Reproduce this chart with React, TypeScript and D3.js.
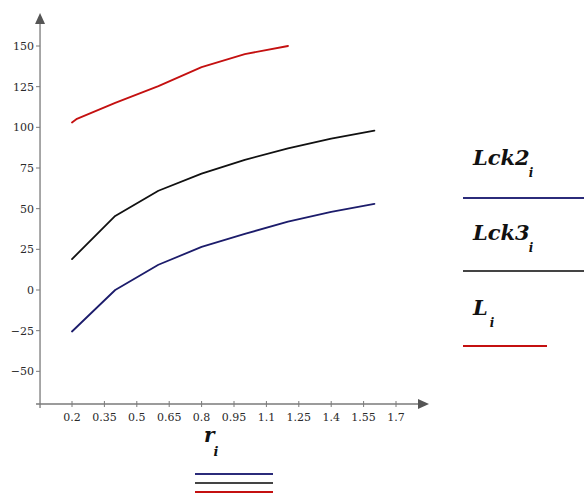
import React from 'react';
import * as d3 from 'd3';

const rValues = [0.2, 0.4, 0.6, 0.8, 1.0, 1.2, 1.4, 1.6];
const lck2 = [-25.5, 0, 15.5, 26.5, 34.5, 42, 48, 53];
const lck3 = [19, 45.5, 61, 71.5, 80, 87, 93, 98];
const rL = [0.2, 0.22, 0.4, 0.6, 0.8, 1.0, 1.2];
const lValues = [103, 105, 115, 125.3, 137, 145, 150];

const xTicks = [0.2, 0.35, 0.5, 0.65, 0.8, 0.95, 1.1, 1.25, 1.4, 1.55, 1.7];
const yTicks = [-50, -25, 0, 25, 50, 75, 100, 125, 150];

const legendItems = [
  { name: 'Lck2', color: '#1c1c6b', lineColor: '#2b2b7a' },
  { name: 'Lck3', color: '#111111', lineColor: '#444444' },
  { name: 'L', color: '#c41010', lineColor: '#c41010' },
];

const font = '"DejaVu Serif", "Liberation Serif", serif';

export default function App() {
  const width = 584;
  const height = 493;

  const x = d3.scaleLinear().domain([0.2, 1.7]).range([72, 396]);
  const y = d3.scaleLinear().domain([0, 150]).range([290, 46]);

  const x0 = x(0.052);
  const y0 = 404;

  const line = d3.line<[number, number]>()
    .x(d => x(d[0]))
    .y(d => y(d[1]));

  const series = [
    { pts: rValues.map((r, i) => [r, lck2[i]] as [number, number]), color: legendItems[0].color },
    { pts: rValues.map((r, i) => [r, lck3[i]] as [number, number]), color: legendItems[1].color },
    { pts: rL.map((r, i) => [r, lValues[i]] as [number, number]), color: legendItems[2].color },
  ];

  const legendY = [165, 240, 315];
  const legendLine = [198, 271, 346];
  const legendEnd = [584, 584, 547];

  return (
    <svg width={width} height={height} style={{ position: 'absolute', left: 0, top: 0 }}>
      <rect width={width} height={height} fill="#fff" />
      {/* axes */}
      <line x1={x0} x2={x0} y1={y0 + 4} y2={22} stroke="#7a7a7a" strokeWidth={1.3} />
      <path d={`M${x0 - 5},24 L${x0 + 5},24 L${x0},13 Z`} fill="#555" />
      <line x1={x0 - 4} x2={420} y1={y0} y2={y0} stroke="#7a7a7a" strokeWidth={1.3} />
      <path d={`M418,${y0 - 5} L418,${y0 + 5} L429,${y0} Z`} fill="#555" />

      {yTicks.map(t => (
        <g key={t}>
          <line x1={x0 - 4} x2={x0} y1={y(t)} y2={y(t)} stroke="#7a7a7a" />
          <text x={x0 - 6} y={y(t)} dy="0.35em" textAnchor="end" fontFamily={font}
            fontSize={11} fill="#2a2a2a">{t < 0 ? `\u2212${-t}` : t}</text>
        </g>
      ))}
      {xTicks.map(t => (
        <g key={t}>
          <line x1={x(t)} x2={x(t)} y1={y0 - 3} y2={y0 + 3} stroke="#7a7a7a" />
          <text x={x(t)} y={y0 + 17} textAnchor="middle" fontFamily={font}
            fontSize={11} fill="#2a2a2a">{t}</text>
        </g>
      ))}

      {series.map((s, i) => (
        <path key={i} d={line(s.pts) ?? ''} fill="none" stroke={s.color} strokeWidth={1.8}
          strokeLinejoin="round" strokeLinecap="round" />
      ))}

      {/* x label */}
      <text x={204} y={442} fontFamily={font} fontStyle="italic" fontWeight="bold" fontSize={20} fill="#111">
        r<tspan dx={-1} dy={14} fontSize={13}>i</tspan>
      </text>
      {legendItems.map((it, i) => (
        <line key={it.name} x1={195} x2={273} y1={474 + i * 9} y2={474 + i * 9}
          stroke={it.lineColor} strokeWidth={2} />
      ))}

      {/* legend */}
      {legendItems.map((it, i) => (
        <g key={it.name}>
          <text x={473} y={legendY[i]} fontFamily={font} fontStyle="italic" fontWeight="bold"
            fontSize={21} fill="#111">
            {it.name}
            <tspan dx={it.name.length === 1 ? 2 : -1} dy={12} fontSize={12}>i</tspan>
          </text>
          <line x1={463} x2={legendEnd[i]} y1={legendLine[i]} y2={legendLine[i]}
            stroke={it.lineColor} strokeWidth={2} />
        </g>
      ))}
    </svg>
  );
}
